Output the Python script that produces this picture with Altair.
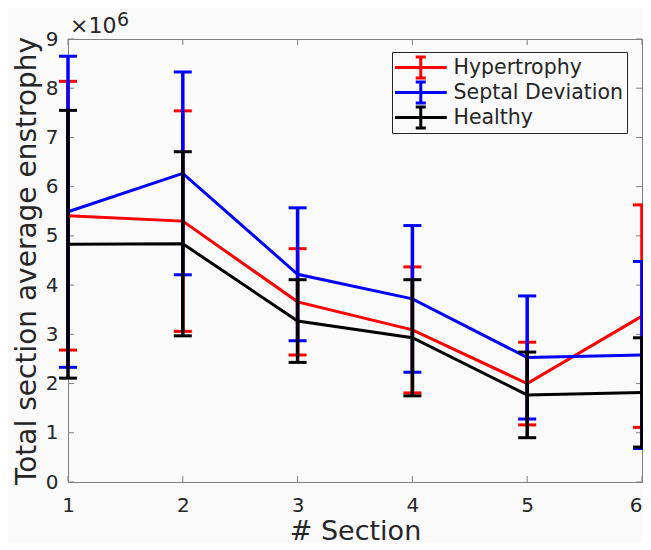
import altair as alt
import pandas as pd

# ---- data (values in units of 10^6) ----
sections = [1, 2, 3, 4, 5, 6]
groups = ["Hypertrophy", "Septal Deviation", "Healthy"]
colors = ["#ff0000", "#0000ff", "#000000"]

hyp_mean = [5.41, 5.30, 3.66, 3.09, 2.00, 3.37]
hyp_err = [2.73, 2.24, 1.08, 1.28, 0.84, 2.26]
sep_mean = [5.49, 6.27, 4.22, 3.72, 2.53, 2.58]
sep_err = [3.16, 2.06, 1.35, 1.49, 1.25, 1.90]
hea_mean = [4.83, 4.84, 3.27, 2.93, 1.77, 1.82]
hea_err = [2.72, 1.87, 0.84, 1.18, 0.87, 1.11]

x_ticks = [1, 2, 3, 4, 5, 6]
y_ticks = [0, 1, 2, 3, 4, 5, 6, 7, 8, 9]

rows = []
for g, means, errs in zip(groups, [hyp_mean, sep_mean, hea_mean], [hyp_err, sep_err, hea_err]):
    for s, m, e in zip(sections, means, errs):
        rows.append({"section": s, "group": g, "mean": m, "lo": m - e, "hi": m + e})
df = pd.DataFrame(rows)
xt = pd.DataFrame({"v": x_ticks})
yt = pd.DataFrame({"v": y_ticks})

W, H = 574, 443
FONT = "DejaVu Sans"
TXT = "#262626"
FRAME = "#808080"
BG = "#fafafa"

xscale = alt.Scale(domain=[1, 6], nice=False, zero=False)
yscale = alt.Scale(domain=[0, 9], nice=False)
cscale = alt.Scale(domain=groups, range=colors)

x_axis = alt.Axis(values=x_ticks, title="# Section", grid=False, domain=False, ticks=False,
                  tickSize=0, labelPadding=13, labelFontSize=20, labelFont=FONT, labelColor=TXT,
                  labelFlush=False, format="d",
                  labelAlign={"condition": {"test": "datum.value == 6", "value": "right"},
                              "value": "center"},
                  titleFontSize=27, titleFont=FONT,
                  titleFontWeight="normal", titleColor=TXT, titleX=W / 2, titleY=57,
                  titleBaseline="alphabetic", titleAlign="center")
y_axis = alt.Axis(values=y_ticks, title="Total section average enstrophy", grid=False,
                  domain=False, ticks=False, tickSize=0, labelPadding=10, labelFontSize=20,
                  labelFont=FONT, labelColor=TXT, format="d", titleFontSize=28, titleFont=FONT,
                  titleFontWeight="normal", titleColor=TXT, titleX=-33, titleY=H / 2,
                  titleAngle=270, titleBaseline="alphabetic", titleAlign="center")

sym_path = ("M-1.5625,0H4.9375M1.6875,-1.3125V1.3125"
            "M1.0625,-1.3125H2.3125M1.0625,1.3125H2.3125")
legend = alt.Legend(title=None, orient="none", legendX=324, legendY=13, symbolType=sym_path,
                    symbolSize=256, symbolStrokeWidth=3, symbolOffset=2, labelOffset=36,
                    labelFontSize=20.5, labelFont=FONT, labelColor=TXT, labelLimit=400,
                    clipHeight=25, padding=3, rowPadding=0, strokeColor=TXT, fillColor=BG)


def X(field):
    return alt.X(field, type="quantitative", scale=xscale, axis=x_axis)


def Y(field):
    return alt.Y(field, type="quantitative", scale=yscale, axis=y_axis)


layers = []

# inward ticks (MATLAB style box)
layers.append(alt.Chart(xt).mark_rule(color=FRAME, strokeWidth=1).encode(
    x=X("v"), y=alt.value(H), y2=alt.value(H - 6)))
layers.append(alt.Chart(xt).mark_rule(color=FRAME, strokeWidth=1).encode(
    x=X("v"), y=alt.value(0), y2=alt.value(6)))
layers.append(alt.Chart(yt).mark_rule(color=FRAME, strokeWidth=1).encode(
    y=Y("v"), x=alt.value(0), x2=alt.value(6)))
layers.append(alt.Chart(yt).mark_rule(color=FRAME, strokeWidth=1).encode(
    y=Y("v"), x=alt.value(W), x2=alt.value(W - 6)))

base = alt.Chart(df)
for g, c in zip(groups, colors):
    sub = base.transform_filter(alt.datum.group == g)
    layers.append(sub.mark_line(strokeWidth=3).encode(
        x=X("section"), y=Y("mean"),
        color=alt.Color("group:N", scale=cscale, legend=legend)))
    layers.append(sub.mark_rule(strokeWidth=3.5, color=c).encode(
        x=X("section"), y=Y("lo"), y2="hi:Q"))
    layers.append(sub.mark_rule(strokeWidth=3, color=c, xOffset=-9, x2Offset=9).encode(
        x=X("section"), x2="section:Q", y=Y("lo")))
    layers.append(sub.mark_rule(strokeWidth=3, color=c, xOffset=-9, x2Offset=9).encode(
        x=X("section"), x2="section:Q", y=Y("hi")))

# exponent label
exp_base = pd.DataFrame({"t": ["×10"]})
exp_sup = pd.DataFrame({"t": ["6"]})
layers.append(alt.Chart(exp_base).mark_text(align="left", baseline="alphabetic", font=FONT,
                                             fontSize=22, color=TXT).encode(
    text="t:N", x=alt.value(2), y=alt.value(-6)))
layers.append(alt.Chart(exp_sup).mark_text(align="left", baseline="alphabetic", font=FONT,
                                            fontSize=19, color=TXT).encode(
    text="t:N", x=alt.value(49), y=alt.value(-13)))

chart = alt.layer(*layers).properties(
    width=W, height=H,
    autosize=alt.AutoSizeParams(type="none"),
    padding={"left": 60, "top": 31, "right": 1, "bottom": 60},
    background=BG,
).configure_view(stroke=FRAME, strokeWidth=1, fill=BG)

chart.save("out.html", embed_options={"renderer": "svg", "actions": False})
